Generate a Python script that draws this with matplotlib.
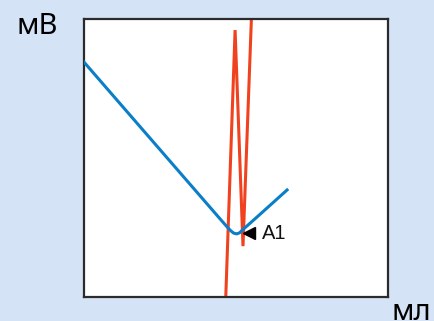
import matplotlib
matplotlib.use("Agg")
import matplotlib.pyplot as plt

# Potentiometric titration: electrode potential and its derivative vs titrant volume
vol_potential = [0.0, 1.0, 2.0, 3.0, 4.0, 4.5, 4.7, 4.82, 4.92, 5.02, 5.12, 5.22, 5.5, 6.0, 6.68]
mv_potential = [84.5, 71.9, 59.3, 46.7, 34.1, 27.8, 25.3, 23.9, 23.0, 22.7, 23.1, 24.2, 26.9, 31.8, 38.5]

vol_derivative = [4.66, 4.97, 5.23, 5.52]
mv_derivative = [-1.0, 96.0, 18.3, 104.0]

endpoint_label = "A1"
endpoint_vol = 5.44
endpoint_mv = 23.0

BG = "#d4e3f5"
BLUE = "#0a7fc8"
RED = "#f0421f"

fig = plt.figure(figsize=(4.35, 3.21), dpi=100)
fig.patch.set_facecolor(BG)
ax = fig.add_axes([84 / 435, 24 / 321, 304 / 435, 278 / 321])
ax.set_facecolor("white")

ax.plot(vol_derivative, mv_derivative, color=RED, linewidth=2.2,
        solid_joinstyle="miter", zorder=2)
ax.plot(vol_potential, mv_potential, color=BLUE, linewidth=2.2,
        solid_joinstyle="round", zorder=3)

ax.plot(endpoint_vol, endpoint_mv, marker="<", color="black", markersize=8,
        linestyle="none", zorder=4)
ax.text(endpoint_vol + 0.42, endpoint_mv, endpoint_label, fontsize=14.5,
        family="Liberation Sans", va="center", ha="left", color="#111111")

ax.set_xlim(0, 10)
ax.set_ylim(0, 100)
ax.set_xticks([])
ax.set_yticks([])
for s in ax.spines.values():
    s.set_color("#2b2b2b")
    s.set_linewidth(1.6)

fig.text(17 / 435, (321 - 34) / 321, "мВ", fontsize=21, family="Noto Sans",
         va="baseline", ha="left", color="black")
fig.text(392 / 435, 1.5 / 321, "мл", fontsize=21, family="Noto Sans",
         va="baseline", ha="left", color="black")

fig.savefig("out.png", dpi=100, facecolor=BG)
